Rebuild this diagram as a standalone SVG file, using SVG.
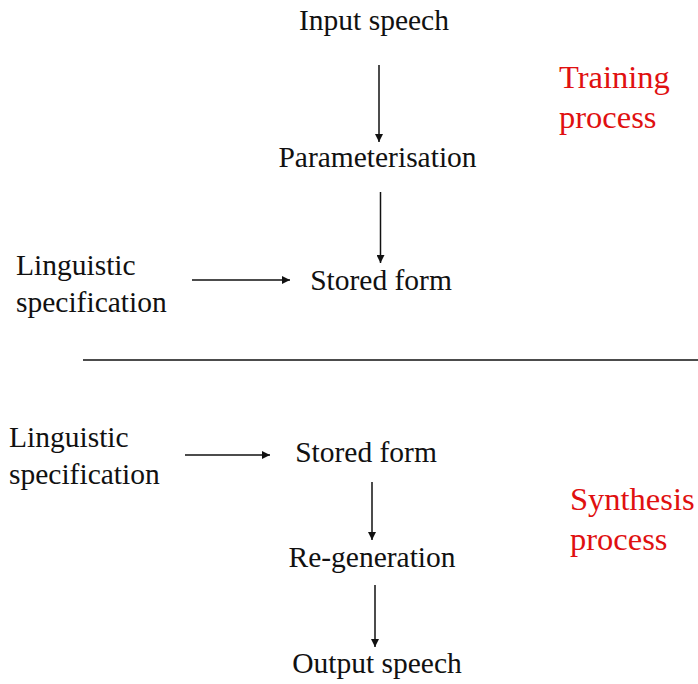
<svg xmlns="http://www.w3.org/2000/svg" width="698" height="684" viewBox="0 0 698 684">
  <style>
    text { font-family: 'Liberation Serif', 'DejaVu Serif', serif; }
    .t { font-size: 29.5px; fill: #111; }
    .lbl { font-size: 32.5px; fill: #e01010; }
    .c { text-anchor: middle; }
    .edge { stroke: #111; stroke-width: 1.5; fill: none; marker-end: url(#arrow); }
  </style>
  <defs>
    <marker id="arrow" viewBox="0 0 10 10" refX="10" refY="5" markerWidth="8" markerHeight="8" markerUnits="userSpaceOnUse" orient="auto">
      <path d="M0,0 L10,5 L0,10 z" fill="#111"/>
    </marker>
  </defs>
  <rect width="698" height="684" fill="#fff"/>

  <!-- training half -->
  <g id="input-speech"><text class="t c" x="374" y="30">Input speech</text></g>
  <g id="parameterisation"><text class="t c" x="377.5" y="167">Parameterisation</text></g>
  <g id="stored-form-1"><text class="t c" x="381" y="290">Stored form</text></g>
  <g id="ling-spec-1">
    <text class="t" x="16" y="275">Linguistic</text>
    <text class="t" x="16" y="312">specification</text>
  </g>
  <g id="training-label">
    <text class="lbl" x="559" y="88">Training</text>
    <text class="lbl" x="559" y="128">process</text>
  </g>

  <!-- divider -->
  <line x1="83" y1="360" x2="698" y2="360" stroke="#111" stroke-width="1.5"/>

  <!-- synthesis half -->
  <g id="ling-spec-2">
    <text class="t" x="9" y="447">Linguistic</text>
    <text class="t" x="9" y="484">specification</text>
  </g>
  <g id="stored-form-2"><text class="t c" x="366" y="462">Stored form</text></g>
  <g id="regeneration"><text class="t c" x="372" y="567">Re-generation</text></g>
  <g id="output-speech"><text class="t c" x="377" y="673">Output speech</text></g>
  <g id="synthesis-label">
    <text class="lbl" x="570" y="510">Synthesis</text>
    <text class="lbl" x="570" y="550">process</text>
  </g>

  <g id="connectors">
    <line class="edge" x1="379" y1="65" x2="379" y2="142"/>
    <line class="edge" x1="380.5" y1="192" x2="380.5" y2="263"/>
    <line class="edge" x1="192" y1="280" x2="290" y2="280"/>
    <line class="edge" x1="185" y1="455" x2="270" y2="455"/>
    <line class="edge" x1="372" y1="482" x2="372" y2="540"/>
    <line class="edge" x1="375" y1="585" x2="375" y2="647"/>
  </g>
</svg>
